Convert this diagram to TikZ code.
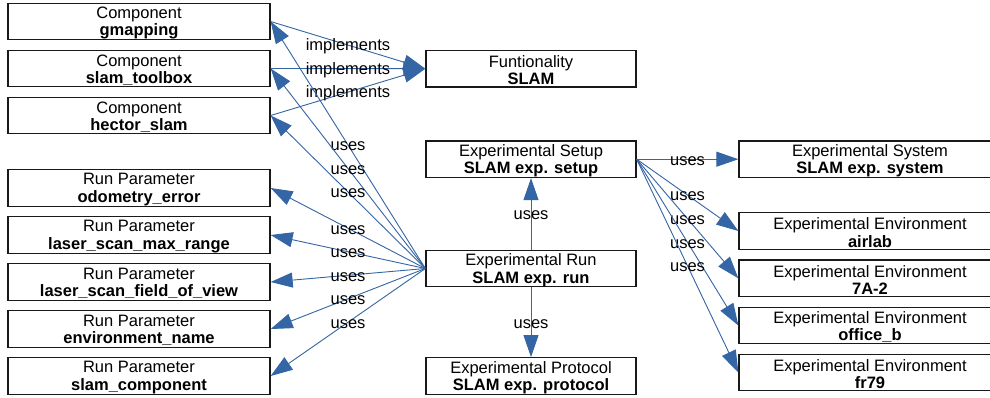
\documentclass[tikz,border=0pt]{standalone}
\usepackage{fontspec}
\setmainfont{Liberation Sans}
\usetikzlibrary{arrows.meta}
\definecolor{edgeblue}{RGB}{52,101,164}
\begin{document}
\begin{tikzpicture}[x=1pt,y=-1pt,
  box/.style={draw=black!90, line width=1.3pt, inner sep=0pt, minimum height=36.5pt,
    label={[yshift=-1.5pt, inner sep=0pt, align=center,
      font=\fontsize{16.5}{17.5}\selectfont]center:#1}},
  leftbox/.style={box={#1}, minimum width=262pt},
  midbox/.style={box={#1}, minimum width=210pt},
  rightbox/.style={box={#1}, minimum width=262pt},
  rel/.style={draw=edgeblue, line width=0.9pt,
    -{Triangle[length=22pt,width=15pt,fill=edgeblue]}},
  lbl/.style={midway, yshift=-1.5pt, inner sep=0pt, text=black,
    font=\fontsize{16.5}{17.5}\selectfont}
]
\clip (0,0) rectangle (990,397);
\fill[white] (0,0) rectangle (990,397);

% components
\node[leftbox={Component\\\textbf{gmapping}}] (gm) at (139,21.5) {};
\node[leftbox={Component\\\textbf{slam\_toolbox}}] (st) at (139,68.5) {};
\node[leftbox={Component\\\textbf{hector\_slam}}] (hs) at (139,115.5) {};

% run parameters
\node[leftbox={Run Parameter\\\textbf{odometry\_error}}] (p1) at (139,188) {};
\node[leftbox={Run Parameter\\\textbf{laser\_scan\_max\_range}}] (p2) at (139,235) {};
\node[leftbox={Run Parameter\\\textbf{laser\_scan\_field\_of\_view}}] (p3) at (139,282) {};
\node[leftbox={Run Parameter\\\textbf{environment\_name}}] (p4) at (139,329) {};
\node[leftbox={Run Parameter\\\textbf{slam\_component}}] (p5) at (139,376) {};

% middle column
\node[midbox={Funtionality\\\textbf{SLAM}}] (func) at (531,68.7) {};
\node[midbox={Experimental Setup\\\textbf{SLAM exp. setup}}] (setup) at (531,159.2) {};
\node[midbox={Experimental Run\\\textbf{SLAM exp. run}}] (run) at (531,268.5) {};
\node[midbox={Experimental Protocol\\\textbf{SLAM exp. protocol}}] (prot) at (531,376) {};

% right column
\node[rightbox={Experimental System\\\textbf{SLAM exp. system}}] (sys) at (870,159.2) {};
\node[rightbox={Experimental Environment\\\textbf{airlab}}] (e1) at (870,231) {};
\node[rightbox={Experimental Environment\\\textbf{7A-2}}] (e2) at (870,278.3) {};
\node[rightbox={Experimental Environment\\\textbf{office\_b}}] (e3) at (870,325.5) {};
\node[rightbox={Experimental Environment\\\textbf{fr79}}] (e4) at (870,372.5) {};

% implements relations
\foreach \c in {gm,st,hs}
  \draw[rel] (\c.east) -- node[lbl] {implements} (func.west);

% run uses components and parameters
\foreach \c in {gm,st,hs,p1,p2,p3,p4,p5}
  \draw[rel] (run.west) -- node[lbl] {uses} (\c.east);

% run uses setup and protocol
\draw[rel] (run.north) -- node[lbl] {uses} (setup.south);
\draw[rel] (run.south) -- node[lbl] {uses} (prot.north);

% setup uses system and environments
\foreach \c in {sys,e1,e2,e3,e4}
  \draw[rel] (setup.east) -- node[lbl] {uses} (\c.west);
\end{tikzpicture}
\end{document}
